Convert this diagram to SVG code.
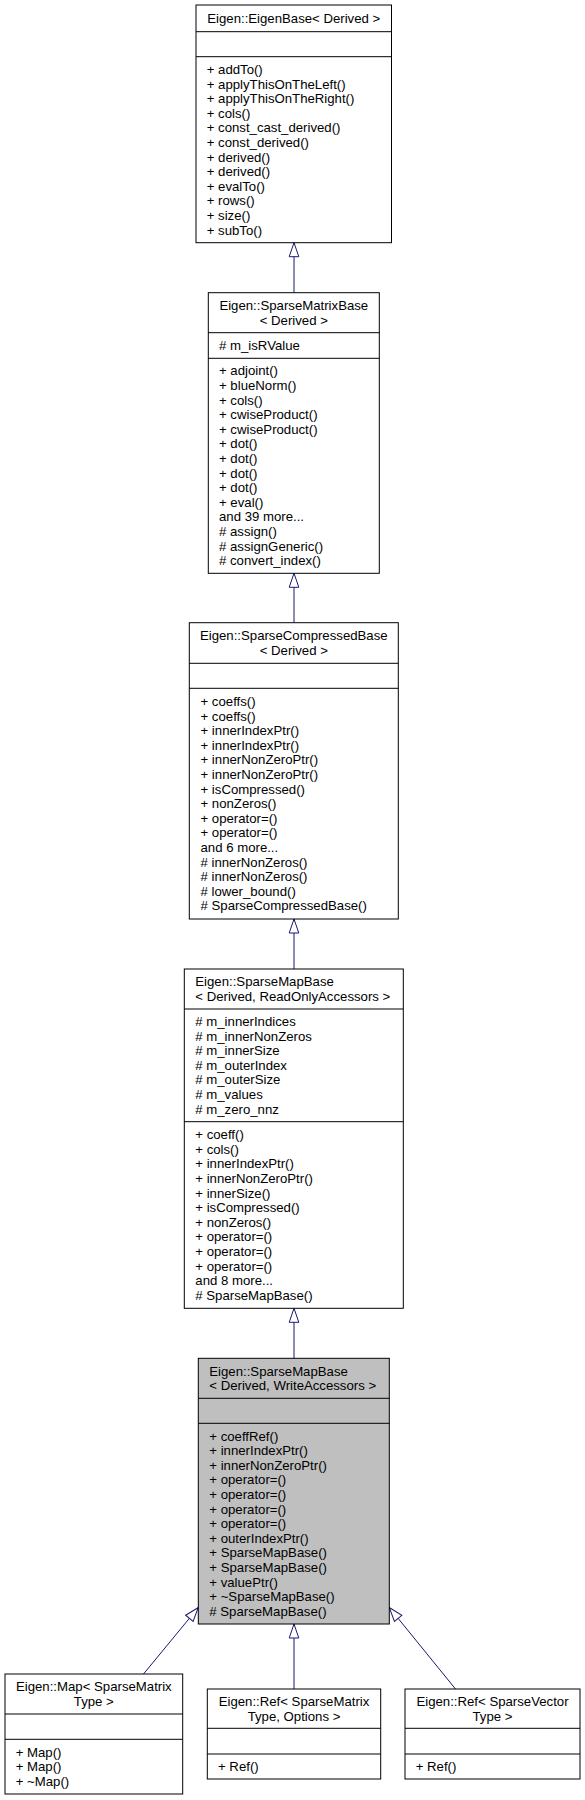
<svg xmlns="http://www.w3.org/2000/svg" width="585" height="1800" viewBox="0 0 585 1800">
<style>
.box{fill:#ffffff;stroke:#000000;stroke-width:1}
.cur{fill:#bfbfbf;stroke:#000000;stroke-width:1}
.sep{stroke:#000000;stroke-width:1}
text{font-family:"Liberation Sans",Arial,Helvetica,sans-serif;font-size:13.2px;fill:#000000}
.c{text-anchor:middle}
.edge{stroke:#191970;stroke-width:1;fill:none;marker-end:url(#inh)}
</style>
<defs>
<marker id="inh" markerUnits="userSpaceOnUse" markerWidth="17" markerHeight="13" viewBox="-1.5 -6.5 17 13" refX="14" refY="0" orient="auto">
<path d="M0,-4.8 L14,0 L0,4.8 Z" fill="#ffffff" stroke="#191970" stroke-width="1"/>
</marker>
</defs>
<rect width="585" height="1800" fill="#ffffff"/>

<g id="connectors">
<line class="edge" x1="294" y1="292.7" x2="294" y2="242.7"/>
<line class="edge" x1="294" y1="622.7" x2="294" y2="573.3"/>
<line class="edge" x1="294" y1="969" x2="294" y2="919"/>
<line class="edge" x1="294" y1="1358.3" x2="294" y2="1308.3"/>
<line class="edge" x1="294" y1="1689" x2="294" y2="1624"/>
<line class="edge" x1="143.5" y1="1674" x2="198.3" y2="1607.5"/>
<line class="edge" x1="455.5" y1="1689" x2="389.3" y2="1607.5"/>
</g>

<g id="EigenBase">
<rect class="box" x="196" y="5" width="195.5" height="237.7"/>
<line class="sep" x1="196" y1="31.7" x2="391.5" y2="31.7"/>
<line class="sep" x1="196" y1="56.7" x2="391.5" y2="56.7"/>
<text class="c" x="293.75" y="22.9">Eigen::EigenBase&lt; Derived &gt;</text>
<text x="206.7" y="73.9">+ addTo()</text>
<text x="206.7" y="88.5">+ applyThisOnTheLeft()</text>
<text x="206.7" y="103.1">+ applyThisOnTheRight()</text>
<text x="206.7" y="117.7">+ cols()</text>
<text x="206.7" y="132.3">+ const_cast_derived()</text>
<text x="206.7" y="146.9">+ const_derived()</text>
<text x="206.7" y="161.5">+ derived()</text>
<text x="206.7" y="176.1">+ derived()</text>
<text x="206.7" y="190.7">+ evalTo()</text>
<text x="206.7" y="205.3">+ rows()</text>
<text x="206.7" y="219.9">+ size()</text>
<text x="206.7" y="234.5">+ subTo()</text>
</g>

<g id="SparseMatrixBase">
<rect class="box" x="208.3" y="292.7" width="171" height="280.6"/>
<line class="sep" x1="208.3" y1="332.7" x2="379.3" y2="332.7"/>
<line class="sep" x1="208.3" y1="358.3" x2="379.3" y2="358.3"/>
<text class="c" x="293.8" y="309.9">Eigen::SparseMatrixBase</text>
<text class="c" x="293.8" y="324.5">&lt; Derived &gt;</text>
<text x="219" y="350"># m_isRValue</text>
<text x="219" y="375.4">+ adjoint()</text>
<text x="219" y="390">+ blueNorm()</text>
<text x="219" y="404.6">+ cols()</text>
<text x="219" y="419.2">+ cwiseProduct()</text>
<text x="219" y="433.8">+ cwiseProduct()</text>
<text x="219" y="448.4">+ dot()</text>
<text x="219" y="463">+ dot()</text>
<text x="219" y="477.6">+ dot()</text>
<text x="219" y="492.2">+ dot()</text>
<text x="219" y="506.8">+ eval()</text>
<text x="219" y="521.4">and 39 more...</text>
<text x="219" y="536"># assign()</text>
<text x="219" y="550.6"># assignGeneric()</text>
<text x="219" y="565.2"># convert_index()</text>
</g>

<g id="SparseCompressedBase">
<rect class="box" x="189.3" y="622.7" width="209" height="296.3"/>
<line class="sep" x1="189.3" y1="663.3" x2="398.3" y2="663.3"/>
<line class="sep" x1="189.3" y1="688.3" x2="398.3" y2="688.3"/>
<text class="c" x="293.8" y="640.2">Eigen::SparseCompressedBase</text>
<text class="c" x="293.8" y="654.8">&lt; Derived &gt;</text>
<text x="200.5" y="706">+ coeffs()</text>
<text x="200.5" y="720.6">+ coeffs()</text>
<text x="200.5" y="735.2">+ innerIndexPtr()</text>
<text x="200.5" y="749.8">+ innerIndexPtr()</text>
<text x="200.5" y="764.4">+ innerNonZeroPtr()</text>
<text x="200.5" y="779">+ innerNonZeroPtr()</text>
<text x="200.5" y="793.6">+ isCompressed()</text>
<text x="200.5" y="808.2">+ nonZeros()</text>
<text x="200.5" y="822.8">+ operator=()</text>
<text x="200.5" y="837.4">+ operator=()</text>
<text x="200.5" y="852">and 6 more...</text>
<text x="200.5" y="866.6"># innerNonZeros()</text>
<text x="200.5" y="881.2"># innerNonZeros()</text>
<text x="200.5" y="895.8"># lower_bound()</text>
<text x="200.5" y="910.4"># SparseCompressedBase()</text>
</g>

<g id="SparseMapBaseReadOnly">
<rect class="box" x="184.3" y="969" width="219" height="339.3"/>
<line class="sep" x1="184.3" y1="1009" x2="403.3" y2="1009"/>
<line class="sep" x1="184.3" y1="1121.7" x2="403.3" y2="1121.7"/>
<text x="195.3" y="986.2">Eigen::SparseMapBase</text>
<text x="195.3" y="1000.8">&lt; Derived, ReadOnlyAccessors &gt;</text>
<text x="195.3" y="1026"># m_innerIndices</text>
<text x="195.3" y="1040.6"># m_innerNonZeros</text>
<text x="195.3" y="1055.2"># m_innerSize</text>
<text x="195.3" y="1069.8"># m_outerIndex</text>
<text x="195.3" y="1084.4"># m_outerSize</text>
<text x="195.3" y="1099"># m_values</text>
<text x="195.3" y="1113.6"># m_zero_nnz</text>
<text x="195.3" y="1139.2">+ coeff()</text>
<text x="195.3" y="1153.8">+ cols()</text>
<text x="195.3" y="1168.4">+ innerIndexPtr()</text>
<text x="195.3" y="1183">+ innerNonZeroPtr()</text>
<text x="195.3" y="1197.6">+ innerSize()</text>
<text x="195.3" y="1212.2">+ isCompressed()</text>
<text x="195.3" y="1226.8">+ nonZeros()</text>
<text x="195.3" y="1241.4">+ operator=()</text>
<text x="195.3" y="1256">+ operator=()</text>
<text x="195.3" y="1270.6">+ operator=()</text>
<text x="195.3" y="1285.2">and 8 more...</text>
<text x="195.3" y="1299.8"># SparseMapBase()</text>
</g>

<g id="SparseMapBaseWrite">
<rect class="cur" x="198.3" y="1358.3" width="191" height="265.7"/>
<line class="sep" x1="198.3" y1="1398.3" x2="389.3" y2="1398.3"/>
<line class="sep" x1="198.3" y1="1423.3" x2="389.3" y2="1423.3"/>
<text x="209.3" y="1375.5">Eigen::SparseMapBase</text>
<text x="209.3" y="1390.1">&lt; Derived, WriteAccessors &gt;</text>
<text x="209.3" y="1440.6">+ coeffRef()</text>
<text x="209.3" y="1455.2">+ innerIndexPtr()</text>
<text x="209.3" y="1469.8">+ innerNonZeroPtr()</text>
<text x="209.3" y="1484.4">+ operator=()</text>
<text x="209.3" y="1499">+ operator=()</text>
<text x="209.3" y="1513.6">+ operator=()</text>
<text x="209.3" y="1528.2">+ operator=()</text>
<text x="209.3" y="1542.8">+ outerIndexPtr()</text>
<text x="209.3" y="1557.4">+ SparseMapBase()</text>
<text x="209.3" y="1572">+ SparseMapBase()</text>
<text x="209.3" y="1586.6">+ valuePtr()</text>
<text x="209.3" y="1601.2">+ ~SparseMapBase()</text>
<text x="209.3" y="1615.8"># SparseMapBase()</text>
</g>

<g id="MapSparseMatrix">
<rect class="box" x="5" y="1674" width="177.7" height="120"/>
<line class="sep" x1="5" y1="1714" x2="182.7" y2="1714"/>
<line class="sep" x1="5" y1="1739.3" x2="182.7" y2="1739.3"/>
<text class="c" x="93.85" y="1691.2">Eigen::Map&lt; SparseMatrix</text>
<text class="c" x="93.85" y="1705.8">Type &gt;</text>
<text x="15.7" y="1756.6">+ Map()</text>
<text x="15.7" y="1771.2">+ Map()</text>
<text x="15.7" y="1785.8">+ ~Map()</text>
</g>

<g id="RefSparseMatrix">
<rect class="box" x="207.3" y="1689" width="173.4" height="90"/>
<line class="sep" x1="207.3" y1="1728.3" x2="380.7" y2="1728.3"/>
<line class="sep" x1="207.3" y1="1754" x2="380.7" y2="1754"/>
<text class="c" x="294" y="1705.9">Eigen::Ref&lt; SparseMatrix</text>
<text class="c" x="294" y="1720.5">Type, Options &gt;</text>
<text x="218" y="1771">+ Ref()</text>
</g>

<g id="RefSparseVector">
<rect class="box" x="405" y="1689" width="175" height="90"/>
<line class="sep" x1="405" y1="1728.3" x2="580" y2="1728.3"/>
<line class="sep" x1="405" y1="1754" x2="580" y2="1754"/>
<text class="c" x="492.5" y="1705.9">Eigen::Ref&lt; SparseVector</text>
<text class="c" x="492.5" y="1720.5">Type &gt;</text>
<text x="415.7" y="1771">+ Ref()</text>
</g>
</svg>
